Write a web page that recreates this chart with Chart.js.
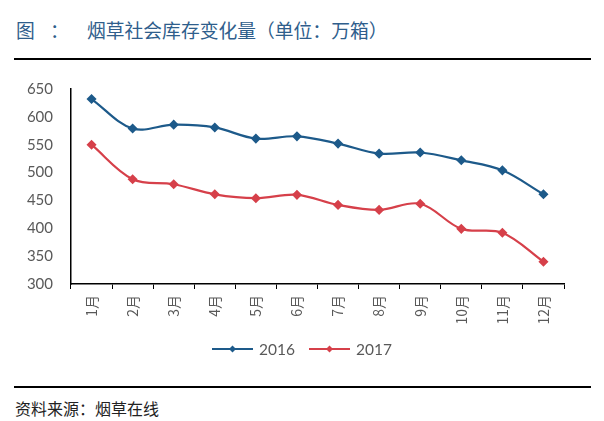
<!DOCTYPE html>
<html><head><meta charset="utf-8">
<script src="https://cdn.jsdelivr.net/npm/chart.js@4/dist/chart.umd.min.js"></script>
<style>
html,body{margin:0;padding:0;background:#fff;width:604px;height:421px;overflow:hidden;position:relative;font-family:"Noto Sans CJK SC",sans-serif;}
.t{position:absolute;top:16px;font-size:18.8px;color:#2F5E8C;white-space:nowrap;}
.rule{position:absolute;left:14px;width:577px;height:2px;background:#000;}
#src{position:absolute;left:15px;top:396px;font-size:16px;color:#222;}
#wrap{position:absolute;left:0;top:62px;width:604px;height:320px;}
</style></head><body>
<div class="t" style="left:16px">图</div>
<div class="t" style="left:50px">：</div>
<div class="t" style="left:87px">烟草社会库存变化量（单位：万箱）</div>
<div class="rule" style="top:58px"></div>
<div id="wrap"><canvas id="c" width="604" height="320"></canvas></div>
<div class="rule" style="top:386px"></div>
<div id="src">资料来源：烟草在线</div>
<script>
const categories = ["1月","2月","3月","4月","5月","6月","7月","8月","9月","10月","11月","12月"];
const series2016 = [632,579,586,581,561,565,552,534,536,522,504,461];
const series2017 = [550,488,479,461,454,460,442,433,444,399,392,340];
const yTicks = [300,350,400,450,500,550,600,650];
const seriesNames = ["2016","2017"];
const colors = ["#1D5A8A","#D6404A"];

const legendPlugin = {
  id:'customLegend',
  afterDraw(chart){
    const ctx = chart.ctx;
    const y = 287;
    const items = [{x:212,c:colors[0],t:seriesNames[0]},{x:309,c:colors[1],t:seriesNames[1]}];
    ctx.save();
    items.forEach(it=>{
      ctx.strokeStyle = it.c; ctx.lineWidth = 2.2;
      ctx.beginPath(); ctx.moveTo(it.x,y); ctx.lineTo(it.x+41,y); ctx.stroke();
      ctx.fillStyle = it.c;
      ctx.beginPath(); const cx=it.x+20.5, r=3.5;
      ctx.moveTo(cx,y-r); ctx.lineTo(cx+r,y); ctx.lineTo(cx,y+r); ctx.lineTo(cx-r,y); ctx.closePath(); ctx.fill();
      ctx.fillStyle = '#595959'; ctx.font = '15.5px Lato, "Noto Sans", sans-serif';
      ctx.textBaseline='middle'; ctx.textAlign='left';
      ctx.fillText(it.t, it.x+47, y+1);
    });
    ctx.restore();
  }
};

new Chart(document.getElementById('c'), {
  type:'line',
  data:{
    labels:categories,
    datasets:[
      {label:seriesNames[0],data:series2016,borderColor:colors[0],backgroundColor:colors[0],borderWidth:2.2,tension:0.35,pointStyle:'rectRot',pointRadius:3.5,pointHoverRadius:3.5},
      {label:seriesNames[1],data:series2017,borderColor:colors[1],backgroundColor:colors[1],borderWidth:2.2,tension:0.35,pointStyle:'rectRot',pointRadius:3.5,pointHoverRadius:3.5}
    ]
  },
  options:{
    responsive:false,animation:false,
    layout:{padding:{left:0,right:40,top:23,bottom:48}},
    plugins:{legend:{display:false},tooltip:{enabled:false}},
    scales:{
      x:{
        offset:true,
        grid:{offset:true,drawOnChartArea:false,drawTicks:true,tickLength:5,color:'#000',tickColor:'#000'},
        border:{color:'#000',width:1.5},
        ticks:{minRotation:90,maxRotation:90,color:'#595959',font:{size:14,family:'"Noto Sans CJK SC", sans-serif'},padding:6},
        afterFit(s){s.height=50;}
      },
      y:{
        min:300,max:650,
        afterBuildTicks(s){s.ticks = yTicks.map(v=>({value:v}));},
        grid:{drawOnChartArea:false,drawTicks:false},
        border:{color:'#000',width:1.5},
        ticks:{color:'#595959',font:{size:15,family:'Lato, "Noto Sans", sans-serif'},padding:18},
        afterFit(s){s.width=71;}
      }
    }
  },
  plugins:[legendPlugin]
});
</script>
</body></html>
